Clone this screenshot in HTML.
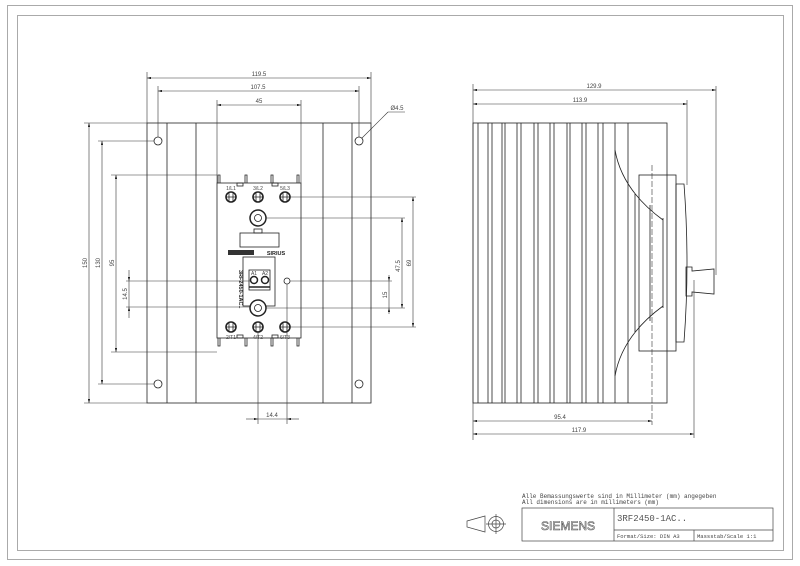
<!DOCTYPE html>
<html><head><meta charset="utf-8"><style>
html,body{margin:0;padding:0;background:#fff;}
svg{display:block;}
text{font-family:"Liberation Sans",sans-serif;fill:#444;}
</style></head><body>
<svg width="800" height="566" viewBox="0 0 800 566" xmlns="http://www.w3.org/2000/svg">
<defs>
<marker id="a" viewBox="0 0 10 6" refX="10" refY="3" markerWidth="7" markerHeight="4" orient="auto-start-reverse"><path d="M0,0L10,3L0,6z" fill="#222"/></marker>
</defs>
<g fill="none" stroke="#aaa" stroke-width="1">
<rect x="7.5" y="5.5" width="785" height="554"/>
<rect x="17.5" y="15.5" width="766" height="535"/>
</g>
<g fill="none" stroke="#222" stroke-width="0.8">
<rect x="147" y="123" width="224" height="280"/>
<line x1="167" y1="123" x2="167" y2="403"/><line x1="196" y1="123" x2="196" y2="403"/>
<line x1="323" y1="123" x2="323" y2="403"/><line x1="352" y1="123" x2="352" y2="403"/>
<circle cx="158" cy="141" r="4"/><circle cx="359" cy="141" r="4"/>
<circle cx="158" cy="384" r="4"/><circle cx="359" cy="384" r="4"/>
<rect x="217" y="183" width="84" height="155" fill="#fff"/>
<path d="M218,183v-8h2v8 M245,183v-8h2v8 M271,183v-8h2v8 M297,183v-8h2v8"/>
<path d="M218,338v8h2v-8 M245,338v8h2v-8 M271,338v8h2v-8 M297,338v8h2v-8"/>
<rect x="237" y="183" width="6" height="3"/><rect x="272" y="183" width="6" height="3"/>
<rect x="237" y="335" width="6" height="3"/><rect x="272" y="335" width="6" height="3"/>
<g stroke-width="1.6">
<circle cx="231" cy="197" r="5"/><circle cx="258" cy="197" r="5"/><circle cx="285" cy="197" r="5"/>
<circle cx="231" cy="327" r="5"/><circle cx="258" cy="327" r="5"/><circle cx="285" cy="327" r="5"/>
</g>
<path d="M229,193v8M233,193v8M226,197h10M256,193v8M260,193v8M253,197h10M283,193v8M287,193v8M280,197h10"/>
<path d="M229,323v8M233,323v8M226,327h10M256,323v8M260,323v8M253,327h10M283,323v8M287,323v8M280,327h10"/>
<circle cx="258" cy="218" r="8" stroke-width="1.5"/><circle cx="258" cy="218" r="3.5"/>
<rect x="254" y="229" width="8" height="4"/>
<rect x="240" y="233" width="39" height="14"/>
<rect x="243" y="257" width="32" height="49"/>
<rect x="249" y="270" width="21" height="20"/>
<circle cx="254" cy="280" r="3.5" stroke-width="1.5"/><circle cx="265" cy="280" r="3.5" stroke-width="1.5"/>
<line x1="249" y1="287" x2="270" y2="287" stroke-width="1.5"/>
<circle cx="287" cy="281" r="3"/>
<circle cx="258" cy="308" r="8" stroke-width="1.5" fill="#fff"/><circle cx="258" cy="308" r="3.5"/>
</g>
<g font-size="5" text-anchor="middle">
<text x="231" y="190">1/L1</text><text x="258" y="190">3/L2</text><text x="285" y="190">5/L3</text>
<text x="231" y="339">2/T1</text><text x="258" y="339">4/T2</text><text x="285" y="339">6/T3</text>
<text x="254" y="275">A1</text><text x="265" y="275">A2</text>
</g>
<rect x="228" y="250" width="26" height="5" fill="#333"/>
<text x="276" y="255" font-size="5.5" font-weight="bold" text-anchor="middle" style="fill:#222">SIRIUS</text>
<text x="0" y="0" font-size="5.5" font-weight="bold" transform="translate(239,270) rotate(90)" style="fill:#222">3RF2450-1AC..</text>

<g stroke="#333" stroke-width="0.6" fill="none">
<line x1="147" y1="72" x2="147" y2="123"/><line x1="371" y1="72" x2="371" y2="123"/>
<line x1="158" y1="86" x2="158" y2="137"/><line x1="359" y1="86" x2="359" y2="137"/>
<line x1="217" y1="100" x2="217" y2="183"/><line x1="301" y1="100" x2="301" y2="183"/>
<line x1="147" y1="78" x2="371" y2="78" marker-start="url(#a)" marker-end="url(#a)"/>
<line x1="158" y1="91" x2="359" y2="91" marker-start="url(#a)" marker-end="url(#a)"/>
<line x1="217" y1="105" x2="301" y2="105" marker-start="url(#a)" marker-end="url(#a)"/>
<line x1="362" y1="138" x2="388" y2="112"/><line x1="388" y1="112" x2="405" y2="112"/>
<line x1="84" y1="123" x2="147" y2="123"/><line x1="84" y1="403" x2="147" y2="403"/>
<line x1="98" y1="141" x2="154" y2="141"/><line x1="98" y1="384" x2="154" y2="384"/>
<line x1="111" y1="175" x2="217" y2="175"/><line x1="111" y1="352" x2="217" y2="352"/>
<line x1="126" y1="281" x2="250" y2="281"/><line x1="126" y1="307" x2="250" y2="307"/>
<line x1="89" y1="123" x2="89" y2="403" marker-start="url(#a)" marker-end="url(#a)"/>
<line x1="102" y1="141" x2="102" y2="384" marker-start="url(#a)" marker-end="url(#a)"/>
<line x1="116" y1="175" x2="116" y2="352" marker-start="url(#a)" marker-end="url(#a)"/>
<line x1="129" y1="270" x2="129" y2="281" marker-end="url(#a)"/><line x1="129" y1="318" x2="129" y2="307" marker-end="url(#a)"/>
<line x1="129" y1="281" x2="129" y2="307"/>
<line x1="290" y1="197" x2="416" y2="197"/><line x1="290" y1="327" x2="416" y2="327"/>
<line x1="266" y1="218" x2="405" y2="218"/><line x1="266" y1="308" x2="405" y2="308"/>
<line x1="290" y1="281" x2="392" y2="281"/>
<line x1="413" y1="197" x2="413" y2="327" marker-start="url(#a)" marker-end="url(#a)"/>
<line x1="402" y1="218" x2="402" y2="308" marker-start="url(#a)" marker-end="url(#a)"/>
<line x1="389" y1="275" x2="389" y2="281" marker-end="url(#a)"/><line x1="389" y1="314" x2="389" y2="308" marker-end="url(#a)"/>
<line x1="389" y1="281" x2="389" y2="308"/>
<line x1="258" y1="332" x2="258" y2="424"/><line x1="287" y1="284" x2="287" y2="424"/>
<line x1="246" y1="419" x2="258" y2="419" marker-end="url(#a)"/><line x1="299" y1="419" x2="287" y2="419" marker-end="url(#a)"/>
<line x1="258" y1="419" x2="287" y2="419"/>
</g>
<g font-size="6" text-anchor="middle">
<text x="259" y="76">119.5</text><text x="258" y="89">107.5</text><text x="259" y="103">45</text>
<text x="397" y="110">Ø4.5</text>
<text x="272" y="417">14.4</text>
<text transform="translate(87,263) rotate(-90)">150</text>
<text transform="translate(100,263) rotate(-90)">130</text>
<text transform="translate(114,263) rotate(-90)">95</text>
<text transform="translate(127,294) rotate(-90)">14.5</text>
<text transform="translate(400,266) rotate(-90)">47.5</text>
<text transform="translate(411,263) rotate(-90)">69</text>
<text transform="translate(387,295) rotate(-90)">15</text>
</g>

<g fill="none" stroke="#222" stroke-width="0.8">
<rect x="473" y="123" width="194" height="280"/>
<path d="M478,123v280M488,123v280M492,123v280M502,123v280M505,123v280M517,123v280M521,123v280M534,123v280M538,123v280M550,123v280M554,123v280M567,123v280M570,123v280M582,123v280M586,123v280M598,123v280M603,123v280M615,123v280M628,123v280"/>
<path d="M615,150 Q622,190 663,220"/>
<path d="M615,376 Q622,336 663,306"/>
<path d="M635,194V332 M650,205V321 M663,218V308"/>
<rect x="639" y="175" width="37" height="176"/>
<path d="M676,184h8q6,79 0,158h-8z"/>
<path d="M686,267h6v4l22,-2v25l-22,-2v4h-6z"/>
</g>
<g stroke="#333" stroke-width="0.6" fill="none">
<line x1="473" y1="84" x2="473" y2="440"/>
<line x1="716" y1="86" x2="716" y2="275"/>
<line x1="687" y1="100" x2="687" y2="185"/>
<line x1="652" y1="165" x2="652" y2="425" stroke-dasharray="6,2"/>
<line x1="694" y1="280" x2="694" y2="438"/>
<line x1="473" y1="90" x2="716" y2="90" marker-start="url(#a)" marker-end="url(#a)"/>
<line x1="473" y1="104" x2="687" y2="104" marker-start="url(#a)" marker-end="url(#a)"/>
<line x1="473" y1="421" x2="652" y2="421" marker-start="url(#a)" marker-end="url(#a)"/>
<line x1="473" y1="434" x2="694" y2="434" marker-start="url(#a)" marker-end="url(#a)"/>
</g>
<g font-size="6" text-anchor="middle">
<text x="594" y="88">129.9</text><text x="580" y="102">113.9</text>
<text x="560" y="419">95.4</text><text x="579" y="432">117.9</text>
</g>

<g font-size="6">
<text x="522" y="498" style="font-family:'Liberation Mono',monospace">Alle Bemassungswerte sind in Millimeter (mm) angegeben</text>
<text x="522" y="504" style="font-family:'Liberation Mono',monospace">All dimensions are in millimeters (mm)</text>
</g>
<g fill="none" stroke="#444" stroke-width="0.7">
<rect x="522" y="508" width="251" height="33"/>
<line x1="614" y1="508" x2="614" y2="541"/>
<line x1="614" y1="530" x2="773" y2="530"/>
<line x1="694" y1="530" x2="694" y2="541"/>
<path d="M467,521l18,-5v16l-18,-5z"/>
<circle cx="496" cy="524" r="7.5"/><circle cx="496" cy="524" r="4"/>
<line x1="486" y1="524" x2="506" y2="524"/><line x1="496" y1="514" x2="496" y2="534"/>
</g>
<text x="568" y="530" font-size="12" text-anchor="middle" style="fill:#fff;stroke:#555;stroke-width:0.6">SIEMENS</text>
<text x="617" y="521" font-size="9" style="font-family:'Liberation Mono',monospace;fill:#555">3RF2450-1AC..</text>
<text x="617" y="538" font-size="5.5" style="font-family:'Liberation Mono',monospace">Format/Size: DIN A3</text>
<text x="697" y="538" font-size="5.5" style="font-family:'Liberation Mono',monospace">Massstab/Scale 1:1</text>
</svg>
</body></html>
